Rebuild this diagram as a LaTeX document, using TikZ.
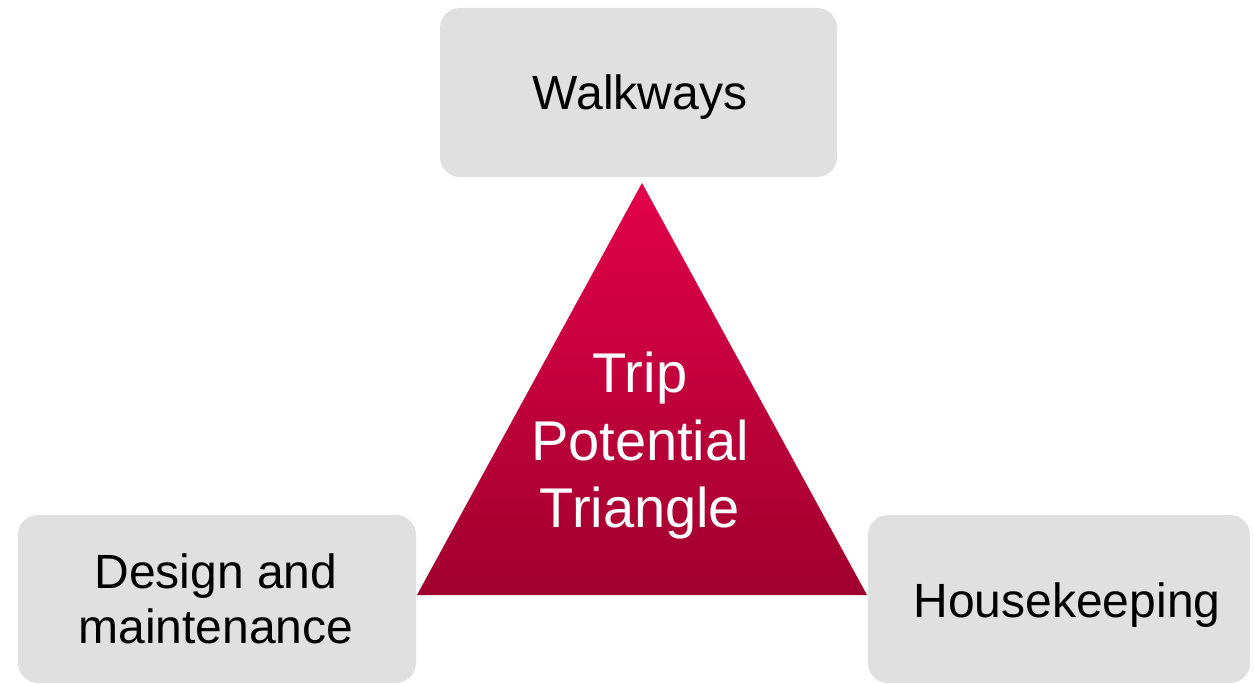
\documentclass[tikz,border=0pt]{standalone}
\usepackage{fontspec}
\setmainfont{Liberation Sans}
\definecolor{boxgray}{HTML}{E0E0E0}
\definecolor{tritop}{HTML}{E2004A}
\definecolor{tribot}{HTML}{A0002E}
\tikzset{
  pbox/.style={rectangle, rounded corners=20pt, fill=boxgray, draw=none, inner sep=0pt},
  boxtext/.style={anchor=base, inner sep=0pt, text=black, font=\fontsize{48}{55}\selectfont, align=center},
  tritext/.style={anchor=base, inner sep=0pt, text=white, font=\fontsize{56}{67.5}\selectfont, align=center}
}
\begin{document}
\begin{tikzpicture}[x=1pt,y=-1pt]
\useasboundingbox[fill=white] (0,0) rectangle (1254,684);
% boxes
\node[pbox, minimum width=397pt, minimum height=169pt] (walk) at (638.5,92.5) {};
\node[pbox, minimum width=398pt, minimum height=168pt] (design) at (217,599) {};
\node[pbox, minimum width=382pt, minimum height=168pt] (house) at (1059,599) {};
% triangle
\shade[top color=tritop, bottom color=tribot] (642,183) -- (417,595) -- (867,595) -- cycle;
% labels
\node[boxtext] (walkt) at (640,110) {Walkways};
\node[boxtext] (designt) at (216,643) {Design and\\maintenance};
\node[boxtext] (houset) at (1067,617) {Housekeeping};
\node[tritext] (trit) at (640,528) {Trip\\Potential\\Triangle};
\end{tikzpicture}
\end{document}
